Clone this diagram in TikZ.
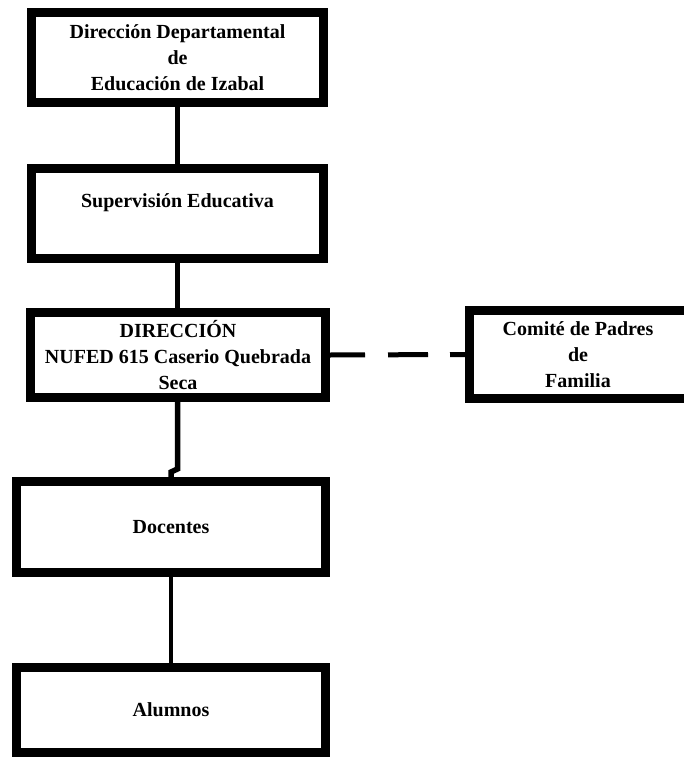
\documentclass[tikz,border=0pt]{standalone}
\usepackage{fontspec}
\setmainfont{Liberation Serif}
\begin{document}
\begin{tikzpicture}[x=1pt,y=-1pt,
  box/.style={draw=black,line width=9pt,fill=white,rectangle,inner sep=0pt,align=center,
    font=\fontsize{20}{26}\selectfont\bfseries},
  txt/.style={inner sep=0pt,align=center,font=\fontsize{20}{26}\selectfont\bfseries},
  conn/.style={line width=5.5pt,black},
  dconn/.style={line width=5pt,black,dash pattern=on 35pt off 23pt on 40pt off 22pt}]
\useasboundingbox[fill=white] (0,0) rectangle (683,757);
\node[box,minimum width=292pt,minimum height=90pt] (b1) at (177.5,57.5)
  {Dirección Departamental\\de\\Educación de Izabal};
\node[box,minimum width=292pt,minimum height=90pt] (b2) at (177.5,213.5) {};
\node[txt] (t2) at (177.5,203) {Supervisión Educativa};
\node[box,minimum width=260pt,minimum height=88pt] (b4) at (599.5,354.5) {};
\node[txt] (t4) at (578,354.5) {Comité de Padres\\de\\Familia};
\node[box,minimum width=295pt,minimum height=85pt] (b3) at (178,355)
  {DIRECCIÓN\\NUFED 615 Caserio Quebrada\\Seca};
\node[box,minimum width=309pt,minimum height=91pt] (b5) at (171,527) {Docentes};
\node[box,minimum width=309pt,minimum height=85pt] (b6) at (171,710) {Alumnos};
\coordinate (j1) at (177.5,469);
\coordinate (j2) at (171,472);
\draw[conn] (b1.south) -- (b2.north);
\draw[conn] (b2.south -| 177.5,0) -- (b3.north -| 177.5,0);
\draw[conn] (b3.south -| 177.5,0) -- (j1) -- (j2) -- (b5.north);
\draw[line width=4.5pt] (b5.south) -- (b6.north);
\draw[dconn] (b3.east) -- (b4.west);
\end{tikzpicture}
\end{document}
